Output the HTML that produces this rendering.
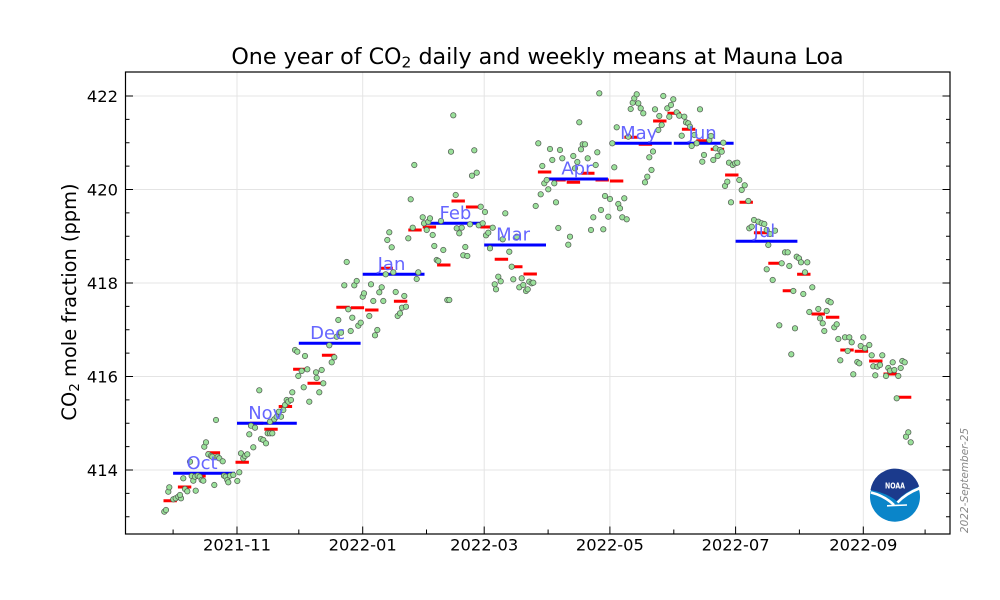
<!DOCTYPE html>
<html>
<head>
<meta charset="utf-8">
<style>
  html,body{margin:0;padding:0;background:#fff;}
  svg{display:block;}
  text{font-family:"DejaVu Sans","Liberation Sans",sans-serif;}
  g.pts circle{r:2.7px;}
</style>
</head>
<body>
<svg width="1000" height="600" viewBox="0 0 1000 600" xmlns="http://www.w3.org/2000/svg">
  <rect x="0" y="0" width="1000" height="600" fill="#ffffff"/>

  <!-- grid -->
  <g stroke="#e4e4e4" stroke-width="1" fill="none">
    <path d="M125.5 96H950M125.5 189.5H950M125.5 283H950M125.5 376.5H950M125.5 470H950"/>
    <path d="M237 72V534M362.7 72V534M484.2 72V534M609.9 72V534M735.6 72V534M863.3 72V534"/>
  </g>

  <!-- weekly means (red) -->
  <path fill="none" stroke="#ff0000" stroke-width="3" d="
M163.5 500.7h13.4M177.9 487h13.4M192.3 476h13.4M206.7 452.7h13.4M221.1 475.5h13.4M235.5 462.3h13.4
M249.9 423.3h13.4M264.3 429.3h13.4M278.7 406.5h13.4M293.1 369.3h13.4M307.5 383.3h13.4M321.9 355.3h13.4
M336.3 307.3h13.4M350.7 307.7h13.4M365.1 310h13.4M379.5 268.3h13.4M393.9 301.3h13.4M408.3 230h13.4
M422.7 227h13.4M437.1 265h13.4M451.5 201h13.4M465.9 207h13.4M480.3 227h13.4M494.7 259.3h13.4
M509.1 266.7h13.4M523.5 274h13.4M537.9 172h13.4M552.3 180h13.4M566.7 182.3h13.4M581.1 173.3h13.4
M595.5 180h13.4M609.9 181h13.4M624.3 137.3h13.4M638.7 144.3h13.4M653.1 121h13.4M667.5 113.3h13.4
M681.9 129.3h13.4M696.3 140.7h13.4M710.7 149.3h13.4M725.1 175h13.4M739.5 202.3h13.4M753.9 232.7h13.4
M768.3 263.3h13.4M782.7 290.7h13.4M797.1 274.3h13.4M811.5 314h13.4M825.9 317.3h13.4M840.3 350h13.4
M854.7 351.3h13.4M869.1 361h13.4M883.5 374h13.4M897.9 397.3h13.4"/>

  <!-- monthly means (blue) -->
  <path fill="none" stroke="#0000ff" stroke-width="3" d="
M173.1 473.3H234.9M237 423.3H296.8M298.8 343.3H360.6M362.7 274.3H424.5M426.5 223.3H482.2
M484.2 245H546M548.1 179H607.9M609.9 143.3H671.7M673.8 143.3H733.6M735.6 241.3H797.4"/>

  <!-- daily points -->
  <g class="pts" fill="#9ae09a" stroke="#555f55" stroke-width="0.75">
<circle cx="164.3" cy="511.7"/><circle cx="166" cy="510"/>
<circle cx="168.3" cy="491.7"/><circle cx="169.3" cy="487.3"/>
<circle cx="173.3" cy="499.3"/><circle cx="175.7" cy="498.3"/><circle cx="178.3" cy="496.7"/><circle cx="181" cy="498.3"/><circle cx="180" cy="495"/>
<circle cx="183.3" cy="478.3"/><circle cx="185" cy="489"/><circle cx="187.3" cy="491.3"/>
<circle cx="190" cy="461.7"/><circle cx="191.7" cy="476"/><circle cx="193.3" cy="480.7"/><circle cx="195" cy="476.7"/><circle cx="195.7" cy="490.7"/>
<circle cx="197.7" cy="475.7"/><circle cx="199.7" cy="476.7"/><circle cx="201.7" cy="480"/><circle cx="203.3" cy="480.7"/>
<circle cx="204.3" cy="446.7"/><circle cx="206" cy="442.3"/><circle cx="208.3" cy="454.3"/><circle cx="211" cy="456"/><circle cx="212.3" cy="456.7"/><circle cx="214.3" cy="485"/>
<circle cx="216" cy="420"/><circle cx="217.7" cy="456.7"/><circle cx="219.3" cy="458.3"/><circle cx="222.7" cy="461.3"/>
<circle cx="224" cy="475.7"/><circle cx="225.7" cy="476.7"/><circle cx="227.3" cy="480"/><circle cx="228.3" cy="482.3"/><circle cx="230" cy="475.7"/><circle cx="233.3" cy="475"/><circle cx="237.3" cy="481"/><circle cx="239.3" cy="472.3"/>
<circle cx="241" cy="453.3"/><circle cx="243.3" cy="458.3"/><circle cx="245" cy="456"/><circle cx="247.3" cy="454.3"/>
<circle cx="249.3" cy="434.3"/><circle cx="251" cy="425.7"/><circle cx="253.3" cy="447.3"/><circle cx="255" cy="427.7"/>
<circle cx="259.3" cy="390.3"/><circle cx="261" cy="439"/><circle cx="263.3" cy="440"/><circle cx="266" cy="443.3"/><circle cx="267.7" cy="433.3"/><circle cx="270" cy="433.3"/><circle cx="272.3" cy="433.3"/>
<circle cx="270" cy="421.7"/><circle cx="274.3" cy="419.3"/><circle cx="276.7" cy="416.7"/><circle cx="279" cy="411.7"/><circle cx="281" cy="416.7"/><circle cx="283.3" cy="410"/>
<circle cx="285" cy="405"/><circle cx="286.7" cy="400"/><circle cx="288.3" cy="401.7"/>
<circle cx="291" cy="400"/><circle cx="292.3" cy="392.3"/><circle cx="303.7" cy="387.3"/><circle cx="309.3" cy="401.7"/><circle cx="319.3" cy="392.3"/><circle cx="323.3" cy="383.3"/>
<circle cx="295" cy="350"/><circle cx="297.3" cy="351.7"/><circle cx="305" cy="356"/><circle cx="298.3" cy="376"/><circle cx="301.7" cy="371"/><circle cx="307.3" cy="369.3"/>
<circle cx="316" cy="372.3"/><circle cx="316.7" cy="378"/><circle cx="321.7" cy="370"/><circle cx="329.3" cy="345.3"/><circle cx="331.7" cy="362.3"/><circle cx="334.3" cy="357.3"/>
<circle cx="336.7" cy="336.7"/><circle cx="338.3" cy="320"/><circle cx="341" cy="332.7"/><circle cx="346.7" cy="262"/><circle cx="344.3" cy="285.3"/><circle cx="348.3" cy="309.3"/>
<circle cx="352.3" cy="317.7"/><circle cx="354.3" cy="285.3"/><circle cx="356.7" cy="281"/><circle cx="350.7" cy="331"/><circle cx="358.3" cy="325.7"/><circle cx="360.7" cy="322.7"/>
<circle cx="362.7" cy="296.7"/><circle cx="364" cy="293.3"/><circle cx="369.3" cy="316"/><circle cx="371" cy="284.3"/><circle cx="373.3" cy="301"/><circle cx="375" cy="335.3"/><circle cx="377.3" cy="330"/>
<circle cx="379.3" cy="292.3"/><circle cx="381.7" cy="287.3"/><circle cx="383.3" cy="301"/><circle cx="385.7" cy="274.3"/><circle cx="387.3" cy="240"/><circle cx="389.3" cy="232.3"/><circle cx="391.7" cy="247.3"/>
<circle cx="393.3" cy="272.3"/><circle cx="395.7" cy="292"/><circle cx="397.7" cy="316"/><circle cx="400" cy="313.3"/><circle cx="402" cy="307.7"/><circle cx="404.3" cy="296"/><circle cx="406" cy="306.7"/>
<circle cx="408.3" cy="238.3"/><circle cx="410.7" cy="199.3"/><circle cx="412.7" cy="227.7"/><circle cx="414.3" cy="165"/><circle cx="416.7" cy="279"/><circle cx="418.3" cy="272.3"/>
<circle cx="422.7" cy="217.3"/><circle cx="424" cy="223.3"/><circle cx="426.7" cy="230"/><circle cx="428.3" cy="221.7"/><circle cx="430" cy="218.3"/><circle cx="432.7" cy="235"/><circle cx="434.3" cy="246"/><circle cx="436.7" cy="260"/><circle cx="438.3" cy="261"/>
<circle cx="443.3" cy="250"/><circle cx="441" cy="221"/><circle cx="447.3" cy="300"/><circle cx="449.3" cy="300"/><circle cx="451" cy="151.7"/><circle cx="453.3" cy="115.3"/>
<circle cx="455.7" cy="195"/><circle cx="456.7" cy="228.3"/><circle cx="459.3" cy="233.3"/><circle cx="461.7" cy="227.7"/><circle cx="463.3" cy="255.3"/><circle cx="465.3" cy="247"/><circle cx="467.3" cy="256"/>
<circle cx="470" cy="224.3"/><circle cx="472" cy="175.7"/><circle cx="474.3" cy="150.3"/><circle cx="476.7" cy="172.7"/><circle cx="478.7" cy="225.3"/><circle cx="480.7" cy="206.7"/><circle cx="482.7" cy="223.3"/>
<circle cx="485" cy="212"/><circle cx="486" cy="235.3"/><circle cx="488.3" cy="232.7"/><circle cx="490" cy="248.3"/><circle cx="492.7" cy="227.7"/>
<circle cx="494.7" cy="284.3"/><circle cx="496" cy="289.3"/><circle cx="498.3" cy="276.7"/><circle cx="500.7" cy="281.3"/><circle cx="502.7" cy="239.3"/><circle cx="505.3" cy="213.3"/>
<circle cx="509.3" cy="251.7"/><circle cx="511.7" cy="266.7"/><circle cx="513.3" cy="279.3"/><circle cx="516.7" cy="236.7"/><circle cx="519.3" cy="287.3"/><circle cx="521.7" cy="278.3"/>
<circle cx="523.3" cy="285"/><circle cx="526" cy="291"/><circle cx="527.7" cy="289.3"/><circle cx="529.3" cy="281.7"/><circle cx="531.7" cy="283.3"/><circle cx="533.3" cy="282.7"/>
<circle cx="535.7" cy="206"/><circle cx="538.3" cy="143.3"/><circle cx="540.7" cy="194.3"/><circle cx="542.3" cy="166"/><circle cx="544.3" cy="183.3"/><circle cx="546.7" cy="180"/>
<circle cx="548.3" cy="189.3"/><circle cx="550" cy="149"/><circle cx="552.3" cy="160"/><circle cx="554.3" cy="183.3"/><circle cx="556" cy="202.3"/><circle cx="558.3" cy="228"/>
<circle cx="560" cy="150"/><circle cx="562.3" cy="158.3"/><circle cx="568.3" cy="244.7"/><circle cx="570" cy="236.7"/><circle cx="573.3" cy="156"/><circle cx="575" cy="168.3"/>
<circle cx="577.3" cy="162"/><circle cx="579.3" cy="122.3"/><circle cx="581" cy="149.3"/><circle cx="582.7" cy="144.3"/><circle cx="585" cy="144.3"/><circle cx="587.7" cy="158.3"/>
<circle cx="591" cy="230"/><circle cx="593.3" cy="217.3"/><circle cx="595.7" cy="165"/><circle cx="597.3" cy="152.3"/><circle cx="599.3" cy="93.3"/><circle cx="601" cy="210"/>
<circle cx="603.3" cy="229.3"/><circle cx="605" cy="196"/><circle cx="608.3" cy="216.7"/><circle cx="610" cy="199"/><circle cx="612.3" cy="143.3"/><circle cx="614.3" cy="167.3"/>
<circle cx="616.7" cy="127.3"/><circle cx="618.3" cy="204"/><circle cx="620" cy="208.3"/><circle cx="622.3" cy="217.3"/><circle cx="624.3" cy="198.3"/><circle cx="626.7" cy="219.3"/>
<circle cx="628.3" cy="136.7"/><circle cx="630.7" cy="109"/><circle cx="632.7" cy="102.7"/><circle cx="634.3" cy="98.3"/><circle cx="636.7" cy="94.3"/><circle cx="638.3" cy="103.3"/>
<circle cx="640.7" cy="108.3"/><circle cx="643.3" cy="113.3"/><circle cx="645" cy="182.3"/><circle cx="647.3" cy="176.7"/><circle cx="649.3" cy="157.3"/>
<circle cx="651.5" cy="170"/><circle cx="653" cy="151.5"/>
<circle cx="655" cy="109.3"/><circle cx="659.3" cy="116"/><circle cx="661.7" cy="125"/><circle cx="658.3" cy="130"/><circle cx="663.3" cy="96"/><circle cx="667.3" cy="108.3"/>
<circle cx="669.3" cy="116.7"/><circle cx="671" cy="105"/><circle cx="673.3" cy="99.3"/><circle cx="676.7" cy="112.3"/><circle cx="679.3" cy="115.7"/><circle cx="681.7" cy="135.7"/>
<circle cx="684.3" cy="116.7"/><circle cx="686" cy="122.3"/><circle cx="688.3" cy="123.3"/><circle cx="690" cy="126.7"/><circle cx="691.7" cy="146"/><circle cx="694.3" cy="135"/>
<circle cx="696.7" cy="143.3"/><circle cx="700" cy="109.3"/><circle cx="702.3" cy="161.7"/><circle cx="704" cy="155"/><circle cx="709.3" cy="140"/><circle cx="711" cy="136"/>
<circle cx="713.3" cy="160"/><circle cx="715.7" cy="148.3"/><circle cx="717.7" cy="156"/><circle cx="720" cy="150"/><circle cx="721.7" cy="151.7"/><circle cx="723.3" cy="142.7"/>
<circle cx="725" cy="186"/><circle cx="727.3" cy="181.7"/><circle cx="729" cy="162.7"/><circle cx="731" cy="202.3"/><circle cx="732.7" cy="165"/><circle cx="735" cy="163.3"/>
<circle cx="737.3" cy="162.7"/><circle cx="739.3" cy="180"/><circle cx="741.7" cy="190"/><circle cx="744.7" cy="185.3"/><circle cx="748.3" cy="201"/>
<circle cx="749.3" cy="228.3"/><circle cx="751.7" cy="226.7"/><circle cx="754" cy="220"/><circle cx="758.3" cy="221.7"/><circle cx="761.7" cy="223.3"/><circle cx="764.3" cy="224"/>
<circle cx="766.7" cy="230"/><circle cx="768.3" cy="245"/><circle cx="770" cy="234"/><circle cx="775" cy="230.7"/><circle cx="766.7" cy="269.3"/>
<circle cx="772.7" cy="280"/><circle cx="781.7" cy="263.3"/><circle cx="785" cy="252.3"/><circle cx="787.7" cy="252.3"/><circle cx="789.3" cy="266"/><circle cx="779.3" cy="325.3"/>
<circle cx="793.3" cy="291"/><circle cx="791.3" cy="354.3"/><circle cx="795" cy="328.3"/><circle cx="796.7" cy="256.7"/><circle cx="799" cy="258.3"/><circle cx="801" cy="262.3"/>
<circle cx="803.3" cy="294"/><circle cx="805" cy="272.3"/><circle cx="807.3" cy="262.3"/><circle cx="809.3" cy="312"/><circle cx="812.3" cy="287.3"/><circle cx="818.3" cy="309"/>
<circle cx="820" cy="318.3"/><circle cx="822.7" cy="323.3"/><circle cx="824.3" cy="331"/><circle cx="826.7" cy="311"/><circle cx="828.3" cy="301"/><circle cx="830.7" cy="302.3"/>
<circle cx="834.3" cy="327.3"/><circle cx="836.7" cy="324.3"/><circle cx="838.3" cy="339"/><circle cx="840.3" cy="360.3"/><circle cx="845" cy="337.3"/><circle cx="847.7" cy="351"/>
<circle cx="849.3" cy="337.3"/><circle cx="851.7" cy="342.3"/><circle cx="853.3" cy="374.3"/><circle cx="857.3" cy="362"/><circle cx="859.3" cy="363.3"/><circle cx="860.7" cy="346"/>
<circle cx="863.3" cy="337.3"/><circle cx="865" cy="348.3"/><circle cx="869.3" cy="345"/><circle cx="871.7" cy="355.3"/><circle cx="873.3" cy="366.3"/><circle cx="875.3" cy="375.3"/>
<circle cx="877.3" cy="366.7"/><circle cx="880" cy="365"/><circle cx="882.3" cy="355.3"/><circle cx="886" cy="376"/><circle cx="888.3" cy="368"/><circle cx="890" cy="370.7"/>
<circle cx="892.7" cy="362.3"/><circle cx="894.3" cy="370"/><circle cx="898.3" cy="376"/><circle cx="900.7" cy="368"/><circle cx="902.3" cy="361"/><circle cx="904.7" cy="362.3"/>
<circle cx="896.7" cy="398.3"/><circle cx="906" cy="436.7"/><circle cx="908.3" cy="432.3"/><circle cx="910.7" cy="442.3"/>
  </g>

  <!-- month labels -->
  <g fill="#6666ff" font-size="18" text-anchor="middle">
    <text x="202" y="469">Oct</text>
    <text x="265.8" y="419">Nov</text>
    <text x="327.6" y="339">Dec</text>
    <text x="391.5" y="270">Jan</text>
    <text x="455.4" y="219">Feb</text>
    <text x="513.1" y="240.7">Mar</text>
    <text x="576.9" y="174.7">Apr</text>
    <text x="638.7" y="139">May</text>
    <text x="702.6" y="139">Jun</text>
    <text x="764.4" y="237">Jul</text>
  </g>

  <!-- axes frame -->
  <rect x="125.5" y="72" width="824.5" height="462" fill="none" stroke="#000" stroke-width="1.2"/>

  <!-- ticks -->
  <g stroke="#000" stroke-width="1" fill="none">
    <path d="M125.5 96h7.5M125.5 189.5h7.5M125.5 283h7.5M125.5 376.5h7.5M125.5 470h7.5"/>
    <path d="M950 96h-7.5M950 189.5h-7.5M950 283h-7.5M950 376.5h-7.5M950 470h-7.5"/>
    <path d="M125.5 119.4h4M125.5 142.75h4M125.5 166.1h4M125.5 212.9h4M125.5 236.25h4M125.5 259.6h4M125.5 306.4h4M125.5 329.75h4M125.5 353.1h4M125.5 399.9h4M125.5 423.25h4M125.5 446.6h4M125.5 493.4h4M125.5 516.75h4"/>
    <path d="M950 119.4h-4M950 142.75h-4M950 166.1h-4M950 212.9h-4M950 236.25h-4M950 259.6h-4M950 306.4h-4M950 329.75h-4M950 353.1h-4M950 399.9h-4M950 423.25h-4M950 446.6h-4M950 493.4h-4M950 516.75h-4"/>
    <path d="M237 534v-7.5M362.7 534v-7.5M484.2 534v-7.5M609.9 534v-7.5M735.6 534v-7.5M863.3 534v-7.5"/>
    <path d="M173.1 534v-4.5M298.8 534v-4.5M426.5 534v-4.5M548.1 534v-4.5M673.8 534v-4.5M799.4 534v-4.5M925.1 534v-4.5"/>
  </g>

  <!-- y tick labels -->
  <g font-size="16.3" fill="#000" text-anchor="end">
    <text x="118" y="101.8">422</text>
    <text x="118" y="195.3">420</text>
    <text x="118" y="288.8">418</text>
    <text x="118" y="382.3">416</text>
    <text x="118" y="475.8">414</text>
  </g>

  <!-- x tick labels -->
  <g font-size="16.3" fill="#000" text-anchor="middle">
    <text x="237" y="550.7">2021-11</text>
    <text x="362.7" y="550.7">2022-01</text>
    <text x="484.2" y="550.7">2022-03</text>
    <text x="609.9" y="550.7">2022-05</text>
    <text x="735.6" y="550.7">2022-07</text>
    <text x="863.3" y="550.7">2022-09</text>
  </g>

  <!-- title -->
  <text x="537.5" y="64" font-size="22.2" text-anchor="middle" fill="#000">One year of CO<tspan dy="3.5" font-size="15.5">2</tspan><tspan dy="-3.5"> daily and weekly means at Mauna Loa</tspan></text>

  <!-- y axis label -->
  <text transform="translate(76,302) rotate(-90)" font-size="19.4" text-anchor="middle" fill="#000">CO<tspan dy="3" font-size="13.6">2</tspan><tspan dy="-3"> mole fraction (ppm)</tspan></text>

  <!-- date stamp -->
  <text transform="translate(968,480.5) rotate(-90)" font-size="10.5" font-style="italic" text-anchor="middle" fill="#888">2022-September-25</text>

  <!-- NOAA logo -->
  <g>
    <circle cx="895" cy="496.7" r="25" fill="#0a85c9"/>
    <path d="M870.5 490 A25 25 0 0 1 919.2 486.5 Q906 491 896.7 501 Q887 493 870.5 490 Z" fill="#1b3a8c"/>
    <path d="M871 492.5 Q885 496 894 505" stroke="#fff" stroke-width="2.6" fill="none"/>
    <path d="M919 488.5 Q906 493.5 897.5 502.5" stroke="#fff" stroke-width="2.6" fill="none"/>
    <path d="M887 505.8 L907 505" stroke="#fff" stroke-width="1.6" fill="none"/>
    <text x="895" y="488.5" font-size="8" font-weight="bold" fill="#fff" text-anchor="middle" textLength="20" lengthAdjust="spacingAndGlyphs">NOAA</text>
  </g>
</svg>
</body>
</html>
